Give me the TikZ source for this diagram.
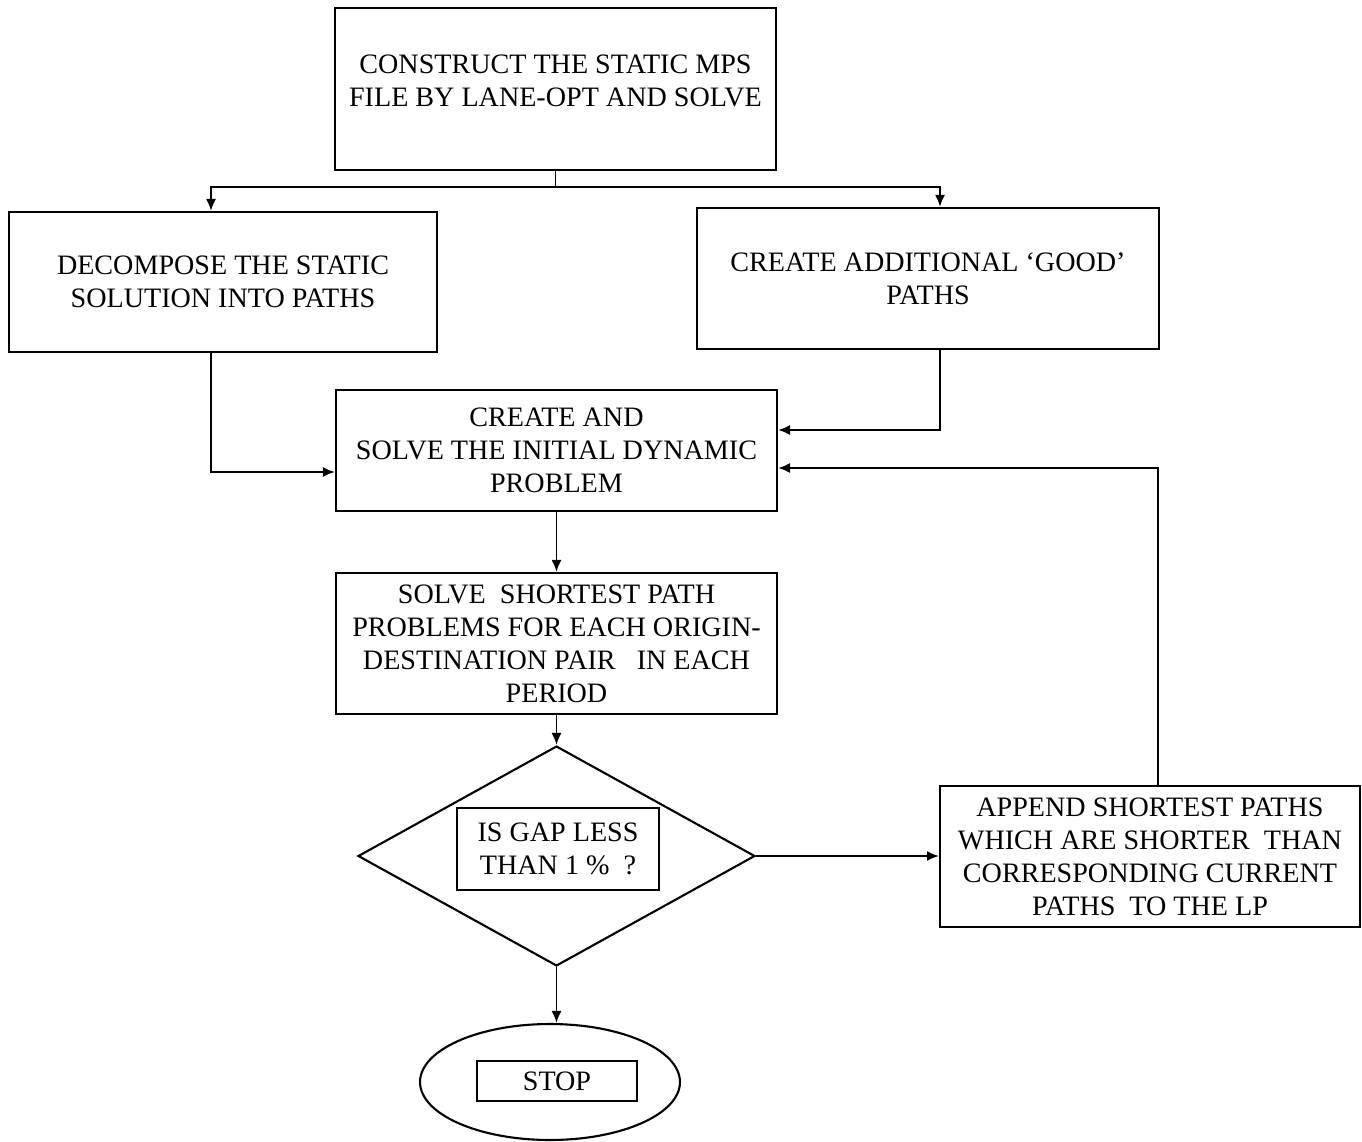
\documentclass[tikz,border=0pt]{standalone}
\usepackage{fontspec}
\setmainfont{Liberation Serif}
\usetikzlibrary{shapes.geometric,arrows.meta}
\tikzset{
  box/.style={draw, line width=1.2pt, inner sep=0pt, align=center,
    font=\fontsize{16}{18.8}\selectfont},
  arr/.style={line width=1.1pt, -{Latex[length=2.4mm,width=2mm]}},
}
\begin{document}
\begin{tikzpicture}[x=0.02cm, y=-0.02cm]
  \useasboundingbox (0,0) rectangle (1362,1142);
  \coordinate (lx) at (211,0);
  \coordinate (rx) at (940,0);
  \coordinate (loopx) at (1158,0);

  % Static problem
  \node[box, minimum width=8.82cm, minimum height=3.24cm] (construct) at (555.5,89) {};
  \node[box, draw=none] (constructtxt) at (555.5,81) {CONSTRUCT THE STATIC MPS\\FILE BY LANE-OPT AND SOLVE};
  \node[box, minimum width=8.56cm, minimum height=2.8cm] (decompose) at (223,282) {DECOMPOSE THE STATIC\\SOLUTION INTO PATHS};
  \node[box, minimum width=9.24cm, minimum height=2.82cm] (additional) at (928,278.5) {CREATE ADDITIONAL `GOOD'\\PATHS};

  % Dynamic problem
  \node[box, minimum width=8.82cm, minimum height=2.42cm] (dynamic) at (556.5,450.5) {CREATE AND\\SOLVE THE INITIAL DYNAMIC\\PROBLEM};
  \node[box, minimum width=8.82cm, minimum height=2.82cm] (shortest) at (556.5,643.5) {SOLVE\ \ SHORTEST PATH\\PROBLEMS FOR EACH ORIGIN-\\DESTINATION PAIR\ \ \ IN EACH\\PERIOD};

  % Test and loop
  \node[draw, line width=1.2pt, diamond, inner sep=0pt, minimum width=7.94cm, minimum height=4.4cm] (gap) at (556.5,856) {};
  \node[box, minimum width=4.04cm, minimum height=1.64cm] (gaptxt) at (558,849) {IS GAP LESS\\THAN 1 \%\ \ ?};
  \node[box, minimum width=8.4cm, minimum height=2.82cm] (append) at (1150,856.5) {APPEND SHORTEST PATHS\\WHICH ARE SHORTER\ \ THAN\\CORRESPONDING CURRENT\\PATHS\ \ TO THE LP};
  \node[draw, line width=1.2pt, ellipse, inner sep=0pt, minimum width=5.2cm, minimum height=2.32cm] (stopring) at (550,1082) {};
  \node[box, minimum width=3.2cm, minimum height=0.8cm] (stop) at (557,1081) {STOP};

  % Connectors
  \coordinate (split) at (555.5,187);
  \draw[line width=1.1pt] (construct.south) -- (split);
  \draw[arr] (split) -| (lx |- decompose.north);
  \draw[arr] (split) -| (rx |- additional.north);
  \draw[arr] (lx |- decompose.south) |- (dynamic.west |- 0,472);
  \draw[arr] (rx |- additional.south) |- (dynamic.east |- 0,430);
  \draw[arr] (loopx |- append.north) |- (dynamic.east |- 0,468);
  \draw[arr] (dynamic.south) -- (shortest.north);
  \draw[arr] (shortest.south) -- (gap.north);
  \draw[arr] (gap.east) -- (gap.east -| append.west);
  \draw[arr] (gap.south) -- (gap.south |- stopring.north);
\end{tikzpicture}
\end{document}
